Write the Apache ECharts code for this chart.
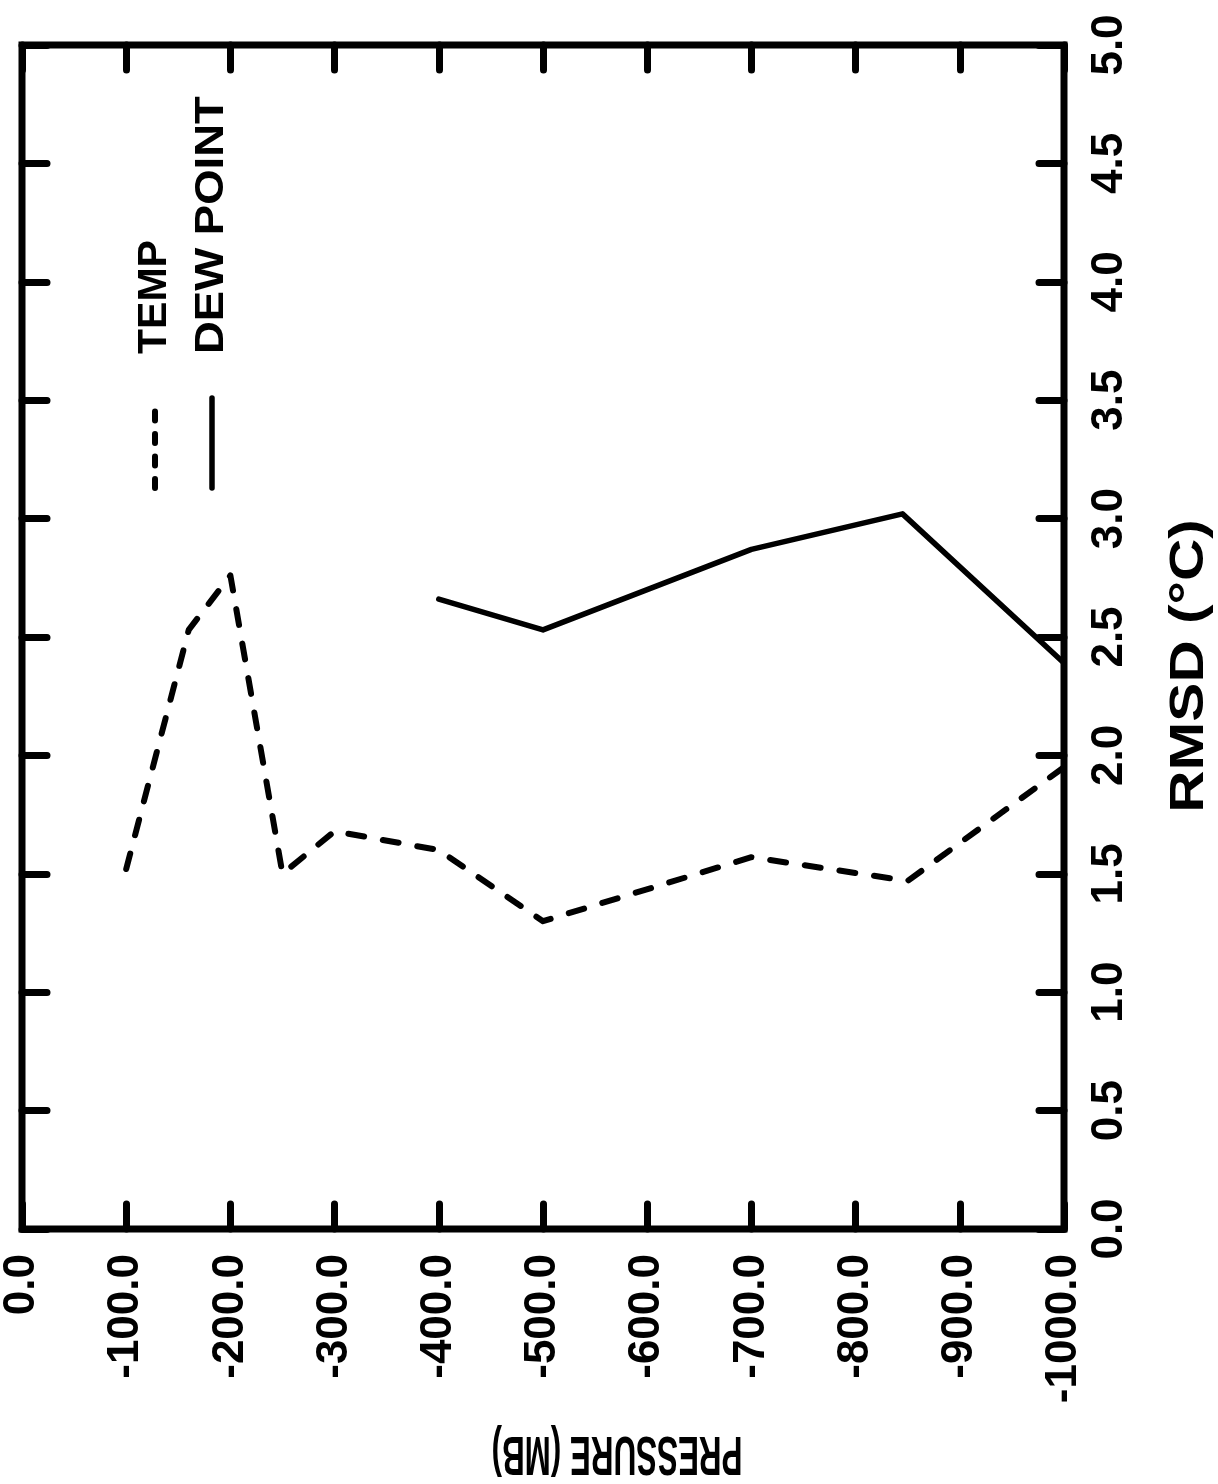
<!DOCTYPE html>
<html>
<head>
<meta charset="utf-8">
<script src="https://cdn.jsdelivr.net/npm/echarts@6/dist/echarts.min.js"></script>
<style>
html,body{margin:0;padding:0;background:#fff;}
#chart{width:1218px;height:1484px;}
</style>
</head>
<body>
<div id="chart"></div>
<script>
// ---- data ----
const seriesNames = ['TEMP', 'DEW POINT'];
const tempPressure = [-100, -160, -200, -250, -300, -400, -500, -700, -850, -1000];
const tempRmsd     = [1.52, 2.53, 2.76, 1.50, 1.68, 1.60, 1.30, 1.57, 1.47, 1.95];
const dewPressure  = [-400, -500, -700, -845, -1000];
const dewRmsd      = [2.66, 2.53, 2.87, 3.02, 2.39];
const pressureRange = [-1000, 0];
const pressureStep = 100;
const rmsdRange = [0, 5];
const rmsdStep = 0.5;
const pressureTitle = 'PRESSURE (MB)';
const rmsdTitle = 'RMSD (°C)';

const FONT = '"Liberation Sans", Arial, Helvetica, sans-serif';
const pairs = (xs, ys) => xs.map((x, i) => [x, ys[i]]);

const chart = echarts.init(document.getElementById('chart'), null, {renderer: 'canvas'});

const tickStyle = {show: true, inside: true, length: 25, lineStyle: {color: '#000', width: 7, cap: 'round'}};
const labelStyle = {color: '#000', fontSize: 44, fontWeight: 'bold', fontFamily: FONT};
const noLine = {show: false, onZero: false};

const option = {
  backgroundColor: '#fff',
  animation: false,
  grid: {left: 22, top: 45, right: 154, bottom: 255, show: true, borderColor: '#000', borderWidth: 7, backgroundColor: 'transparent', containLabel: false},
  xAxis: [
    {type: 'value', position: 'bottom', min: pressureRange[0], max: pressureRange[1], interval: pressureStep, inverse: true,
     axisLine: noLine, axisTick: tickStyle, splitLine: {show: false},
     axisLabel: Object.assign({rotate: 90, margin: 25, formatter: v => v.toFixed(1)}, labelStyle)},
    {type: 'value', position: 'top', min: pressureRange[0], max: pressureRange[1], interval: pressureStep, inverse: true,
     axisLine: noLine, axisTick: tickStyle, splitLine: {show: false}, axisLabel: {show: false}}
  ],
  yAxis: [
    {type: 'value', position: 'right', min: rmsdRange[0], max: rmsdRange[1], interval: rmsdStep,
     axisLine: noLine, axisTick: tickStyle, splitLine: {show: false},
     axisLabel: Object.assign({rotate: 90, margin: 24, formatter: v => v.toFixed(1)}, labelStyle)},
    {type: 'value', position: 'left', min: rmsdRange[0], max: rmsdRange[1], interval: rmsdStep,
     axisLine: noLine, axisTick: tickStyle, splitLine: {show: false}, axisLabel: {show: false}}
  ],
  series: [
    {name: seriesNames[0], type: 'line', data: pairs(tempPressure, tempRmsd), showSymbol: false, symbol: 'none',
     lineStyle: {color: '#000', width: 6, type: [16, 19], cap: 'round', join: 'round'}},
    {name: seriesNames[1], type: 'line', data: pairs(dewPressure, dewRmsd), showSymbol: false, symbol: 'none',
     lineStyle: {color: '#000', width: 5.5, type: 'solid', cap: 'round', join: 'round'}}
  ],
  graphic: [
    {type: 'text', x: 1190, y: 666, rotation: Math.PI / 2, scaleX: 1.22,
     style: {text: rmsdTitle, font: 'bold 48px ' + FONT, fill: '#000', align: 'center', verticalAlign: 'middle'}},
    {type: 'text', x: 617, y: 1452, rotation: Math.PI, scaleX: 0.56,
     style: {text: pressureTitle, font: 'bold 56px ' + FONT, fill: '#000', align: 'center', verticalAlign: 'middle'}},
    {type: 'line', shape: {x1: 155, y1: 488, x2: 155, y2: 400},
     style: {stroke: '#000', lineWidth: 6, lineDash: [9, 13.5], lineCap: 'round'}},
    {type: 'text', x: 155, y: 354, rotation: Math.PI / 2,
     style: {text: seriesNames[0], font: 'bold 41px ' + FONT, fill: '#000', align: 'left', verticalAlign: 'middle'}},
    {type: 'line', shape: {x1: 212, y1: 488, x2: 212, y2: 398},
     style: {stroke: '#000', lineWidth: 5.5, lineCap: 'round'}},
    {type: 'text', x: 212, y: 354, rotation: Math.PI / 2, scaleX: 1.11,
     style: {text: seriesNames[1], font: 'bold 41px ' + FONT, fill: '#000', align: 'left', verticalAlign: 'middle'}}
  ]
};
chart.setOption(option);
</script>
</body>
</html>
